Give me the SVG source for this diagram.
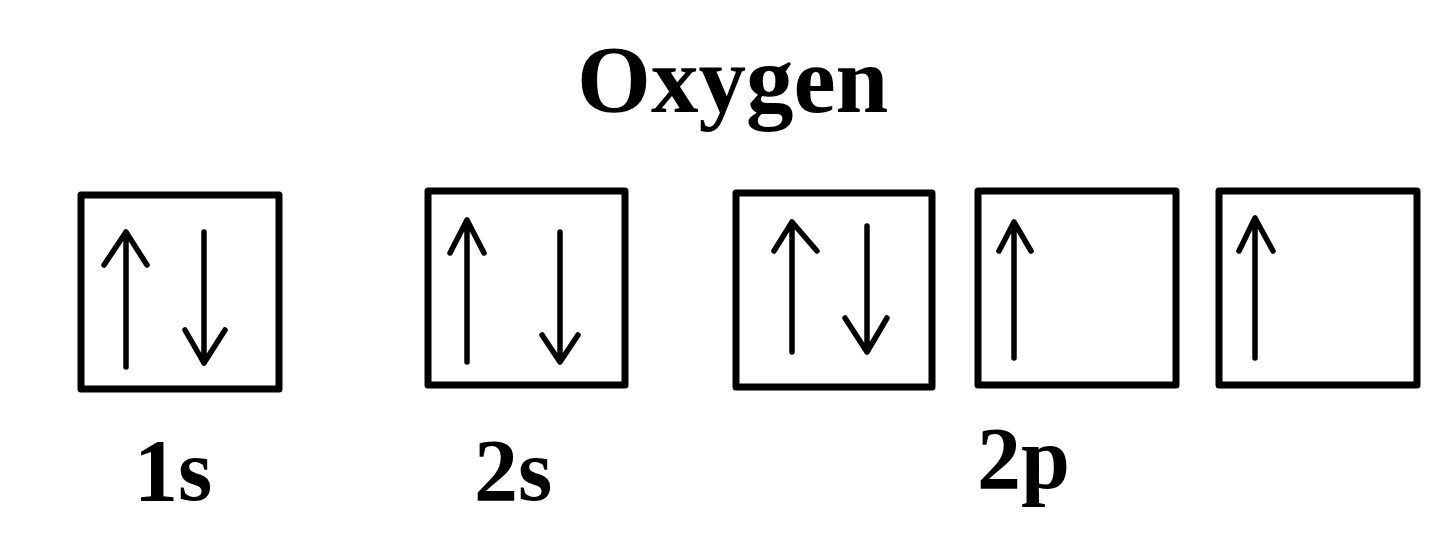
<svg xmlns="http://www.w3.org/2000/svg" width="1440" height="541" viewBox="0 0 1440 541">
<style>
.box{fill:none;stroke:#000;stroke-width:7;stroke-linejoin:round}
.arr{fill:none;stroke:#000;stroke-width:5.5;stroke-linecap:round;stroke-linejoin:round}
.t{font-family:"Liberation Serif","Times New Roman",serif;font-weight:bold;fill:#000}
</style>
<rect width="1440" height="541" fill="#fff"/>
<text class="t" x="577" y="112" font-size="95">Oxygen</text>
<g id="orb-1s">
<rect class="box" x="81" y="195" width="198" height="194"/>
<path class="arr" d="M126,367 V232 M104,265 L126,232 L147,265"/>
<path class="arr" d="M204,232 V363 M185,330 L204,363 L225,330"/>
</g>
<g id="orb-2s">
<rect class="box" x="428" y="191" width="197" height="194"/>
<path class="arr" d="M467,362 V220 M450,253 L467,220 L484,253"/>
<path class="arr" d="M560,232 V362 M542,335 L560,362 L578,335"/>
</g>
<g id="orb-2p-1">
<rect class="box" x="736" y="193" width="196" height="194"/>
<path class="arr" d="M792,352 V222 M774,251 L792,222 L817,251"/>
<path class="arr" d="M867,226 V352 M845,318 L867,352 L887,318"/>
</g>
<g id="orb-2p-2">
<rect class="box" x="978" y="191" width="198" height="194"/>
<path class="arr" d="M1014,358 V222 M999,251 L1014,222 L1031,251"/>
</g>
<g id="orb-2p-3">
<rect class="box" x="1219" y="191" width="198" height="194"/>
<path class="arr" d="M1255,358 V218 M1239,251 L1255,218 L1273,251"/>
</g>
<g id="labels">
<text class="t" x="134" y="500" font-size="88">1s</text>
<text class="t" x="474" y="500" font-size="88">2s</text>
<text class="t" x="977" y="488" font-size="88">2p</text>
</g>
<g id="connectors"/>
</svg>
